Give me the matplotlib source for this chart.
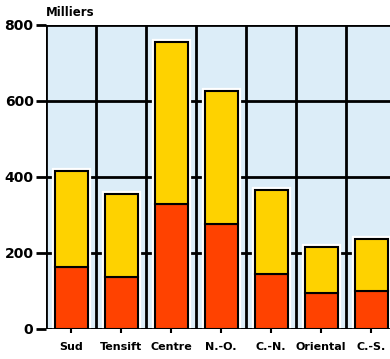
import matplotlib
matplotlib.use("Agg")
import matplotlib.pyplot as plt

categories = ["Sud", "Tensift", "Centre", "N.-O.", "C.-N.", "Oriental", "C.-S."]
red_values = [163, 137, 329, 276, 145, 95, 100]
total_values = [416, 355, 755, 626, 366, 216, 237]
yellow_values = [t - r for t, r in zip(total_values, red_values)]
yticks = [0, 200, 400, 600, 800]

fig = plt.figure(figsize=(3.9, 3.59), dpi=100)
ax = fig.add_axes([46/390, 30/359, 344/390, 304/359])
ax.set_facecolor("#dcedf8")
x = list(range(len(categories)))

ax.set_xlim(-0.5, 6.38)
ax.set_ylim(0, 800)

# grid
for gx in [i + 0.5 for i in range(-1, 7)]:
    ax.axvline(gx, color="black", lw=2, zorder=1)
for gy in yticks:
    ax.axhline(gy, color="black", lw=2, zorder=1)

w = 0.66
# white halo behind each full bar
ax.bar(x, total_values, width=w, color="white", edgecolor="white", lw=4.5, zorder=2)
ax.bar(x, red_values, width=w, color="#ff4200", edgecolor="black", lw=1.5, zorder=3)
ax.bar(x, yellow_values, bottom=red_values, width=w, color="#fed200",
       edgecolor="black", lw=1.5, zorder=3)
ax.axhline(0, color="black", lw=2, zorder=4)

for s in ax.spines.values():
    s.set_visible(False)

fam = "DejaVu Sans"
ax.set_yticks(yticks)
ax.set_yticklabels([str(v) for v in yticks], fontfamily=fam,
                   fontweight="bold", fontsize=10)
ax.set_xticks(x)
ax.set_xticklabels(categories, fontfamily=fam, fontweight="bold", fontsize=8)
ax.tick_params(axis="y", length=7, width=2, pad=2)
ax.tick_params(axis="x", length=3, width=1.5, pad=6)

fig.text(46/390, 1 - 12/359, "Milliers", fontfamily=fam, fontweight="bold",
         fontsize=8.5, va="center", ha="left")

fig.savefig("out.png", dpi=100)
